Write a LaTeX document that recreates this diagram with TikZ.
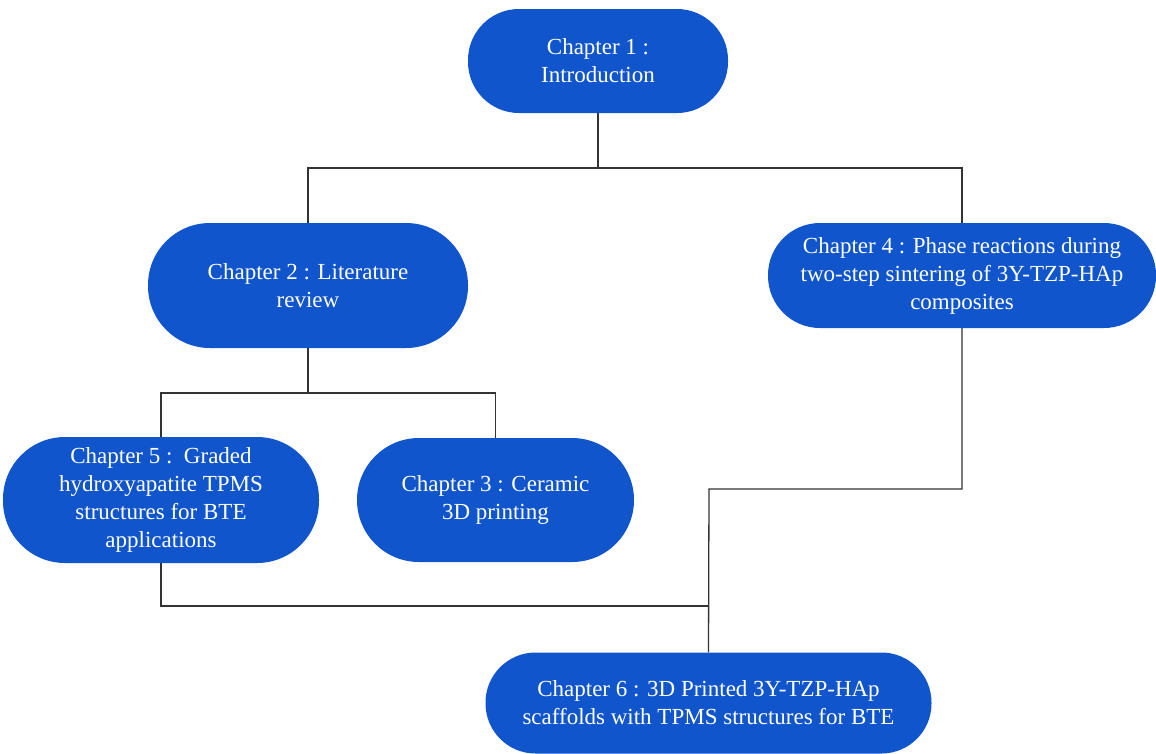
\documentclass[tikz,border=0pt]{standalone}
\usepackage{fontspec}
\setmainfont{Liberation Serif}
\definecolor{chapblue}{HTML}{1155CC}
\definecolor{linegray}{HTML}{333333}
\begin{document}
\begin{tikzpicture}[x=1pt,y=-1pt,
  chap/.style={rectangle, rounded corners=#1, fill=chapblue, text=white, align=center,
    font=\fontsize{23}{28}\selectfont, inner sep=0pt},
  conn/.style={draw=linegray, line width=1.3pt}]
\useasboundingbox (0,0) rectangle (1156,753);
\node[chap=51pt, minimum width=260pt, minimum height=104pt] (n1) at (598,61) {Chapter 1 :\\Introduction};
\node[chap=62pt, minimum width=320pt, minimum height=125pt] (n2) at (308,285.5) {Chapter 2 : Literature\\review};
\node[chap=52pt, minimum width=388pt, minimum height=105pt] (n4) at (962,275.5) {Chapter 4 : Phase reactions during\\two-step sintering of 3Y-TZP-HAp\\composites};
\node[chap=62pt, minimum width=316pt, minimum height=126pt] (n5) at (161,500) {Chapter 5 :\ \ Graded\\hydroxyapatite TPMS\\structures for BTE\\applications};
\node[chap=62pt, minimum width=277pt, minimum height=124pt] (n3) at (495.5,500) {Chapter 3 : Ceramic\\3D printing};
\node[chap=50pt, minimum width=446pt, minimum height=101pt] (n6) at (708.5,703) {Chapter 6 : 3D Printed 3Y-TZP-HAp\\scaffolds with TPMS structures for BTE};
\coordinate (b1) at (598,168);
\coordinate (b2) at (308,393);
\coordinate (b3) at (709,489);
\coordinate (b4) at (709,606);
\draw[conn] (n1.south) -- (b1);
\draw[conn] (n2.north) |- (b1) -| (n4.north);
\draw[conn] (n2.south) -- (b2);
\draw[conn] (n5.north) |- (b2) -| (n3.north);
\draw[conn] (n4.south) |- (b3) -- (n6.north);
\draw[conn] (n5.south) |- (b4);
\end{tikzpicture}
\end{document}
